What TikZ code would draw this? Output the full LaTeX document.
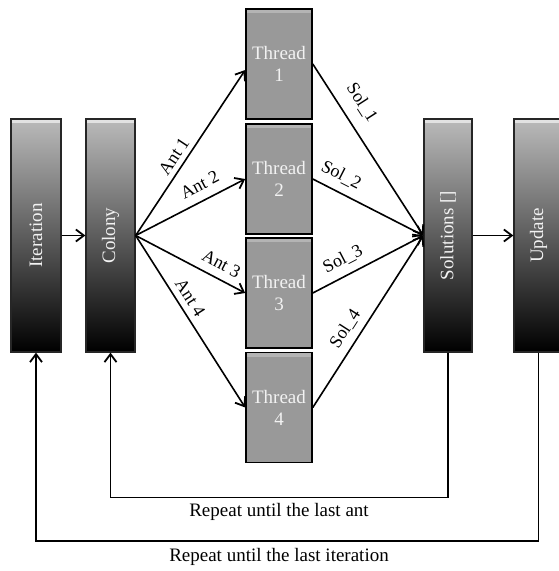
\documentclass[tikz,border=0pt]{standalone}
\usepackage{fontspec}
\setmainfont{Liberation Serif}
\usetikzlibrary{arrows.meta}
\definecolor{stripgray}{HTML}{E2E2E2}
\definecolor{threadgray}{HTML}{999999}
\definecolor{threadtop}{HTML}{B4B4B4}
\definecolor{labelwhite}{HTML}{F2F2F2}
\tikzset{
  tallbox/.style={rectangle, minimum width=#1, minimum height=233pt, inner sep=0pt,
    top color=black!27, bottom color=black, draw=black!85, line width=1.3pt,
    text=labelwhite, font=\fontsize{19}{22}\selectfont,
    path picture={\fill[stripgray] (path picture bounding box.north west)
      rectangle ([yshift=-4pt]path picture bounding box.north east);}},
  threadbox/.style={rectangle, minimum width=66pt, minimum height=110pt, inner sep=0pt,
    fill=threadgray, draw=black, line width=1.6pt, align=center,
    text=labelwhite, font=\fontsize{19}{22}\selectfont,
    path picture={\fill[threadtop] (path picture bounding box.north west)
      rectangle ([yshift=-4pt]path picture bounding box.north east);}},
  flow/.style={line width=1.6pt, -{Straight Barb[length=8pt,width=12pt,line width=1.8pt]}},
  edgelabel/.style={font=\fontsize{18}{21}\selectfont, sloped, inner sep=0pt, above=#1},
  looplabel/.style={font=\fontsize{19}{22}\selectfont}
}
\begin{document}
\begin{tikzpicture}[x=1pt,y=-1pt]
  \useasboundingbox (0,0) rectangle (558,571);

  % tall stage boxes
  \node[tallbox=50pt] (iter) at (36,235.5) {\rotatebox{90}{Iteration}};
  \node[tallbox=49pt] (colony) at (110.5,235.5) {\rotatebox{90}{Colony}};
  \node[tallbox=48pt] (sols) at (448,235.5) {\rotatebox{90}{Solutions []}};
  \node[tallbox=49pt] (upd) at (538.5,235.5) {\rotatebox{90}{Update}};

  % worker threads
  \node[threadbox] (t1) at (279,64) {Thread\\1};
  \node[threadbox] (t2) at (279,179) {Thread\\2};
  \node[threadbox] (t3) at (279,293) {Thread\\3};
  \node[threadbox] (t4) at (279,407.5) {Thread\\4};

  % main flow
  \draw[flow] (iter.east) -- (colony.west);
  \draw[flow] (sols.east) -- (upd.west);

  % ants dispatched to threads
  \draw[flow] (colony.east) -- node[edgelabel=5pt, pos=0.44] {Ant 1} ([yshift=-6pt]t1.west);
  \draw[flow] (colony.east) -- node[edgelabel=9pt, pos=0.65] {Ant 2} (t2.west);
  \draw[flow] (colony.east) -- node[edgelabel=8pt, pos=0.72] {Ant 3} (t3.west);
  \draw[flow] (colony.east) -- node[edgelabel=6pt, pos=0.40] {Ant 4} (t4.west);

  % solutions gathered from threads
  \draw[flow] (t1.east) -- node[edgelabel=12pt, pos=0.29] {Sol\_1} (sols.west);
  \draw[flow] (t2.east) -- node[edgelabel=8pt, pos=0.19] {Sol\_2} (sols.west);
  \draw[flow] (t3.east) -- node[edgelabel=8pt, pos=0.34] {Sol\_3} (sols.west);
  \draw[flow] (t4.east) -- node[edgelabel=7pt, pos=0.41] {Sol\_4} (sols.west);

  % repeat loops
  \coordinate (antR) at (sols.south |- 0,497.5);
  \coordinate (antL) at (colony.south |- 0,497.5);
  \coordinate (itR) at (upd.south |- 0,541);
  \coordinate (itL) at (iter.south |- 0,541);
  \draw[flow] (sols.south) -- (antR) -- (antL) -- (colony.south);
  \draw[flow] (upd.south) -- (itR) -- (itL) -- (iter.south);

  \node[looplabel] (antlbl) at (279,512) {Repeat until the last ant};
  \node[looplabel] (itlbl) at (279,557) {Repeat until the last iteration};
\end{tikzpicture}
\end{document}
